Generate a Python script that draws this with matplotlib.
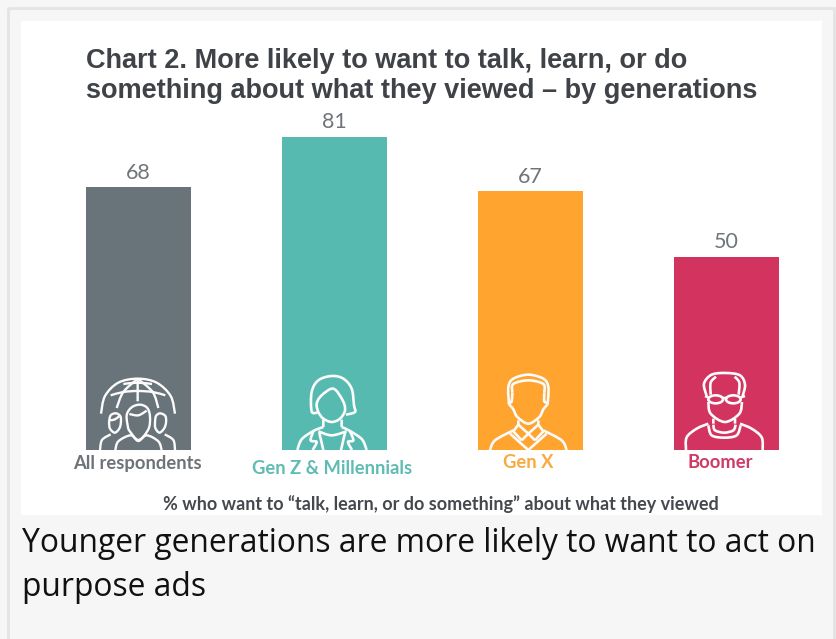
import matplotlib
matplotlib.use('Agg')
import matplotlib.pyplot as plt
import numpy as np
from matplotlib.patches import Rectangle, PathPatch, Ellipse
from matplotlib.path import Path

categories = ['All respondents', 'Gen Z & Millennials', 'Gen X', 'Boomer']
values = [68, 81, 67, 50]
bar_colors = ['#69737a', '#57bab0', '#ffa42f', '#d3335f']
label_colors = ['#6d7378', '#5fbcb2', '#f9a93f', '#cf3a66']
label_y = [463, 468, 463, 463]

title_lines = ['Chart 2. More likely to want to talk, learn, or do',
               'something about what they viewed \u2013 by generations']
axis_note = '% who want to \u201ctalk, learn, or do something\u201d about what they viewed'
caption_lines = ['Younger generations are more likely to want to act on', 'purpose ads']

W, H = 836, 639
fig = plt.figure(figsize=(W / 100, H / 100), dpi=100, facecolor='#f6f6f6')

# layer in pixel coordinates for the card
bg = fig.add_axes([0, 0, 1, 1])
bg.set_xlim(0, W)
bg.set_ylim(H, 0)
bg.axis('off')
bg.add_patch(Rectangle((8, 8), 826, H, fc='none', ec='#e4e4e4', lw=2))
bg.add_patch(Rectangle((21, 21), 801, 494, fc='white', ec='none'))

# bars: zero line at y=450px, 3.87px per percent
ax = fig.add_axes([21 / W, (H - 450) / H, 801 / W, 429 / H])
ax.patch.set_alpha(0)
ax.set_xlim(-0.6, 3.487)
ax.set_ylim(0, 429 / 3.87)
ax.axis('off')
xs = range(len(values))
ax.bar(xs, values, width=0.536, color=bar_colors)
for x, v in zip(xs, values):
    ax.annotate(str(v), (x, v), xytext=(0, 3), textcoords='offset points', ha='center', va='bottom',
                family='Lato', fontsize=15.5, color='#6f7579')

over = fig.add_axes([0, 0, 1, 1])
over.set_xlim(0, W)
over.set_ylim(H, 0)
over.axis('off')
over.patch.set_alpha(0)

for y, line in zip([61, 91], title_lines):
    over.text(86, y, line, family='Liberation Sans', weight='bold', fontsize=19.5, color='#3f4347', va='center')
centers = [137, 332, 528, 720]
for c, name, col, y in zip(centers, categories, label_colors, label_y):
    over.text(c, y, name, family='Lato', weight='bold', fontsize=13.25, color=col, ha='center', va='center')
over.text(441, 504, axis_note, family='Lato', weight='bold', fontsize=13, color='#45494e', ha='center', va='center')
for y, line in zip([543, 588], caption_lines):
    over.text(22, y, line, family='Open Sans', fontsize=22.9, color='#111111', va='center')


def spline(pts):
    # Catmull-Rom through the points, written as cubic beziers
    pts = np.array(pts, dtype=float)
    p = np.vstack([pts[0], pts, pts[-1]])
    verts = [pts[0]]
    codes = [Path.MOVETO]
    for i in range(1, len(p) - 2):
        verts += [p[i] + (p[i + 1] - p[i - 1]) / 6, p[i + 1] - (p[i + 2] - p[i]) / 6, p[i + 1]]
        codes += [Path.CURVE4] * 3
    return Path(verts, codes)


def icon(x0, strokes, lw=1.9, rings=()):
    # icon outlines are sketched on a 3x grid anchored at (x0, 372)
    for s in strokes:
        pts = [(x0 + a / 3, 372 + b / 3) for a, b in s]
        over.add_patch(PathPatch(spline(pts), fc='none', ec='#fbfbfb', lw=lw, capstyle='butt'))
    for cx, cy, w, h in rings:
        over.add_patch(Ellipse((x0 + cx / 3, 372 + cy / 3), w / 3, h / 3, fc='none', ec='#fbfbfb', lw=lw))


# globe and three people
icon(90, [
    [(33, 125), (45, 72), (85, 32), (143, 20), (200, 32), (242, 72), (255, 125)],
    [(80, 108), (100, 60), (143, 20)],
    [(205, 108), (188, 60), (143, 20)],
    [(143, 20), (143, 88)],
    [(62, 70), (100, 60), (143, 57), (188, 60), (226, 70)],
    [(100, 36), (143, 32), (186, 36)],
    [(115, 172), (110, 130), (125, 106), (150, 98), (172, 108), (180, 135), (175, 172), (145, 204), (115, 172)],
    [(118, 126), (145, 130), (170, 116)],
    [(76, 234), (85, 208), (122, 190), (145, 207), (170, 190), (205, 208), (215, 234)],
    [(57, 150), (62, 130), (78, 124), (92, 135), (90, 165), (75, 182), (60, 170), (57, 150)],
    [(60, 145), (75, 142), (88, 132)],
    [(30, 234), (36, 204), (62, 187)],
    [(195, 150), (198, 132), (210, 124), (226, 132), (228, 152), (222, 170), (208, 182), (196, 168), (195, 150)],
    [(255, 234), (250, 204), (224, 187)],
], lw=1.7)

# woman with shoulder length hair
icon(290, [
    [(82, 122), (65, 118), (65, 60), (85, 25), (125, 12), (160, 20), (185, 50), (192, 100), (195, 120), (168, 128)],
    [(85, 122), (80, 95), (95, 70), (130, 50), (158, 85), (165, 115), (150, 140), (125, 150), (100, 140), (85, 122)],
    [(100, 143), (100, 165)],
    [(155, 143), (155, 165)],
    [(22, 234), (35, 202), (70, 177), (100, 165)],
    [(230, 234), (216, 202), (180, 177), (155, 165)],
    [(85, 178), (125, 190), (170, 178)],
    [(70, 178), (62, 205), (80, 210), (68, 234)],
    [(180, 178), (190, 205), (174, 210), (186, 234)],
    [(88, 183), (100, 234)],
    [(165, 183), (153, 234)],
])

# man with collared shirt
icon(485, [
    [(72, 95), (70, 45), (85, 20), (130, 8), (175, 20), (190, 45), (188, 95)],
    [(82, 62), (85, 36), (130, 25), (175, 36), (178, 62)],
    [(82, 62), (80, 88), (72, 95), (85, 112), (97, 135), (130, 155), (163, 135), (175, 112), (188, 95), (178, 88), (178, 62)],
    [(100, 145), (100, 160)],
    [(160, 145), (160, 160)],
    [(15, 234), (30, 205), (85, 175)],
    [(245, 234), (230, 205), (175, 175)],
    [(100, 158), (130, 185)],
    [(160, 158), (130, 185)],
    [(100, 158), (85, 178)],
    [(160, 158), (175, 178)],
    [(85, 178), (110, 205)],
    [(175, 178), (150, 205)],
    [(110, 205), (130, 185)],
    [(150, 205), (130, 185)],
    [(75, 185), (130, 234)],
    [(185, 185), (130, 234)],
])

# balding man with glasses
icon(680, [
    [(80, 72), (72, 35), (95, 8), (138, 3), (180, 10), (195, 38), (188, 72)],
    [(92, 68), (92, 32), (108, 14)],
    [(176, 68), (178, 32), (164, 14)],
    [(129, 78), (138, 78)],
    [(85, 76), (75, 72)],
    [(182, 76), (195, 72)],
    [(85, 90), (92, 125), (135, 150), (178, 125), (186, 90)],
    [(100, 140), (100, 155)],
    [(165, 140), (165, 155)],
    [(18, 234), (20, 196), (50, 170), (85, 155)],
    [(248, 234), (245, 196), (215, 170), (180, 155)],
    [(85, 160), (95, 190), (133, 197), (170, 190), (182, 160)],
    [(100, 158), (105, 175), (133, 182), (160, 175), (167, 158)],
], rings=[(107, 82, 44, 24), (160, 82, 44, 24)])

fig.savefig('out.png', dpi=100, facecolor=fig.get_facecolor())
